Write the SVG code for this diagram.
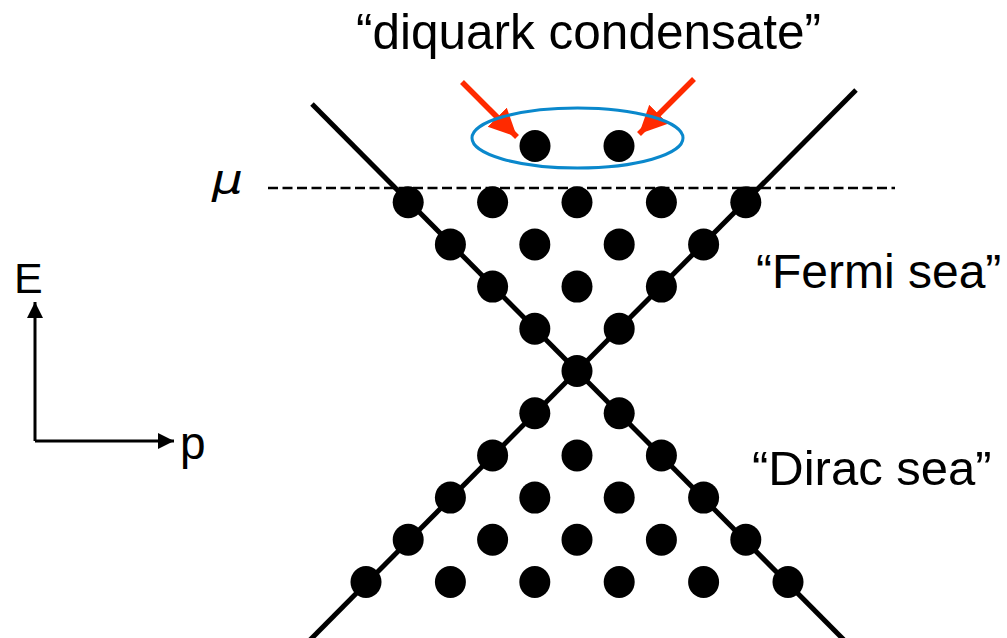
<svg xmlns="http://www.w3.org/2000/svg" width="1007" height="638" viewBox="0 0 1007 638">
  <style>
    .lbl { font-family: "Liberation Sans", Arial, sans-serif; fill: #000; }
    .dot { fill: #000; }
    .band { stroke: #000; stroke-width: 5; fill: none; }
    .mu { stroke: #000; stroke-width: 2.5; stroke-dasharray: 10 4.5; fill: none; }
    .axis { stroke: #000; stroke-width: 3; fill: none; }
    .red { stroke: #ff2a00; stroke-width: 5.5; fill: none; }
  </style>
  <defs>
    <marker id="redhead" markerUnits="userSpaceOnUse" markerWidth="32" markerHeight="32" refX="28" refY="13.5" orient="auto">
      <polygon points="0,0 28,13.5 0,27" fill="#ff2a00"/>
    </marker>
    <marker id="axhead" markerUnits="userSpaceOnUse" markerWidth="20" markerHeight="20" refX="16" refY="8" orient="auto">
      <polygon points="0,0 16,8 0,16" fill="#000"/>
    </marker>
  </defs>
  <rect width="1007" height="638" fill="#fff"/>

  <g id="connectors">
    <line class="band" x1="312" y1="104" x2="845" y2="641"/>
    <line class="band" x1="856" y1="90" x2="309" y2="641"/>
    <line class="mu" x1="268" y1="188" x2="895" y2="188"/>
    <line class="axis" x1="35" y1="441" x2="35" y2="302" marker-end="url(#axhead)"/>
    <line class="axis" x1="35" y1="441" x2="174" y2="441" marker-end="url(#axhead)"/>
    <line class="red" x1="462" y1="82" x2="517" y2="137" marker-end="url(#redhead)"/>
    <line class="red" x1="694" y1="79" x2="639" y2="134" marker-end="url(#redhead)"/>
  </g>

  <g id="diquark-condensate">
    <ellipse cx="577.5" cy="138" rx="105.5" ry="30" fill="none" stroke="#0a88cc" stroke-width="3"/>
    <ellipse class="dot" cx="535" cy="146" rx="15.5" ry="16"/>
    <ellipse class="dot" cx="619" cy="146" rx="15.5" ry="16"/>
  </g>

  <g id="fermi-sea">
    <ellipse class="dot" cx="408.2" cy="202.2" rx="15.5" ry="16"/>
    <ellipse class="dot" cx="492.6" cy="202.2" rx="15.5" ry="16"/>
    <ellipse class="dot" cx="577" cy="202.2" rx="15.5" ry="16"/>
    <ellipse class="dot" cx="661.4" cy="202.2" rx="15.5" ry="16"/>
    <ellipse class="dot" cx="745.8" cy="202.2" rx="15.5" ry="16"/>
    <ellipse class="dot" cx="450.4" cy="244.4" rx="15.5" ry="16"/>
    <ellipse class="dot" cx="534.8" cy="244.4" rx="15.5" ry="16"/>
    <ellipse class="dot" cx="619.2" cy="244.4" rx="15.5" ry="16"/>
    <ellipse class="dot" cx="703.6" cy="244.4" rx="15.5" ry="16"/>
    <ellipse class="dot" cx="492.6" cy="286.6" rx="15.5" ry="16"/>
    <ellipse class="dot" cx="577" cy="286.6" rx="15.5" ry="16"/>
    <ellipse class="dot" cx="661.4" cy="286.6" rx="15.5" ry="16"/>
    <ellipse class="dot" cx="534.8" cy="328.8" rx="15.5" ry="16"/>
    <ellipse class="dot" cx="619.2" cy="328.8" rx="15.5" ry="16"/>
  </g>

  <g id="crossing">
    <ellipse class="dot" cx="577" cy="371" rx="15.5" ry="16"/>
  </g>

  <g id="dirac-sea">
    <ellipse class="dot" cx="534.8" cy="413.2" rx="15.5" ry="16"/>
    <ellipse class="dot" cx="619.2" cy="413.2" rx="15.5" ry="16"/>
    <ellipse class="dot" cx="492.6" cy="455.4" rx="15.5" ry="16"/>
    <ellipse class="dot" cx="577" cy="455.4" rx="15.5" ry="16"/>
    <ellipse class="dot" cx="661.4" cy="455.4" rx="15.5" ry="16"/>
    <ellipse class="dot" cx="450.4" cy="497.6" rx="15.5" ry="16"/>
    <ellipse class="dot" cx="534.8" cy="497.6" rx="15.5" ry="16"/>
    <ellipse class="dot" cx="619.2" cy="497.6" rx="15.5" ry="16"/>
    <ellipse class="dot" cx="703.6" cy="497.6" rx="15.5" ry="16"/>
    <ellipse class="dot" cx="408.2" cy="539.8" rx="15.5" ry="16"/>
    <ellipse class="dot" cx="492.6" cy="539.8" rx="15.5" ry="16"/>
    <ellipse class="dot" cx="577" cy="539.8" rx="15.5" ry="16"/>
    <ellipse class="dot" cx="661.4" cy="539.8" rx="15.5" ry="16"/>
    <ellipse class="dot" cx="745.8" cy="539.8" rx="15.5" ry="16"/>
    <ellipse class="dot" cx="366" cy="582" rx="15.5" ry="16"/>
    <ellipse class="dot" cx="450.4" cy="582" rx="15.5" ry="16"/>
    <ellipse class="dot" cx="534.8" cy="582" rx="15.5" ry="16"/>
    <ellipse class="dot" cx="619.2" cy="582" rx="15.5" ry="16"/>
    <ellipse class="dot" cx="703.6" cy="582" rx="15.5" ry="16"/>
    <ellipse class="dot" cx="788" cy="582" rx="15.5" ry="16"/>
  </g>

  <g id="labels">
    <text class="lbl" x="356" y="49" font-size="49.5">“diquark condensate”</text>
    <text class="lbl" x="756" y="288" font-size="48">“Fermi sea”</text>
    <text class="lbl" x="752" y="485" font-size="49">“Dirac sea”</text>
    <text class="lbl" x="14" y="293" font-size="43">E</text>
    <text class="lbl" x="180" y="459" font-size="46">p</text>
    <text x="212" y="193" font-family="'DejaVu Sans', sans-serif" font-style="italic" font-size="40" textLength="31" lengthAdjust="spacingAndGlyphs">μ</text>
  </g>
</svg>
